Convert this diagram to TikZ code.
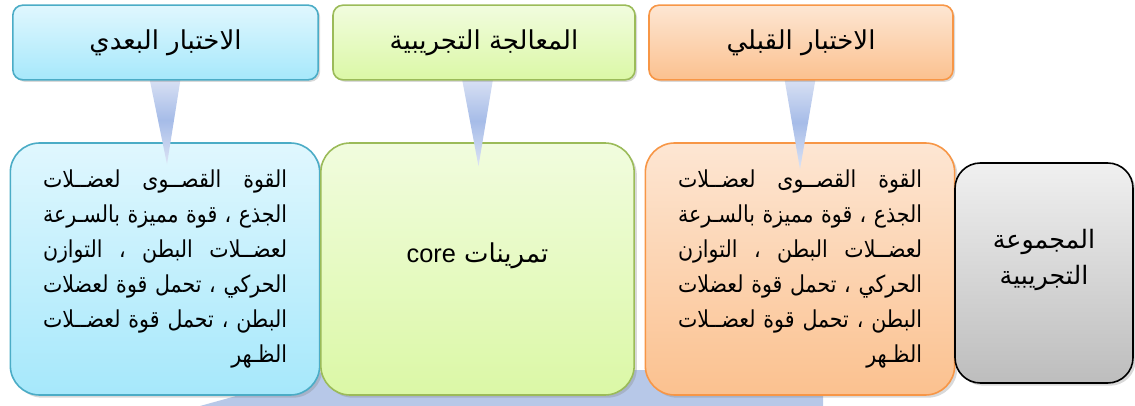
\documentclass[tikz,border=0pt]{standalone}
\usepackage{fontspec}
\setmainfont{Liberation Sans}
\newfontfamily\arabicfont[Script=Arabic]{DejaVu Sans}
\newfontfamily\arabicnarrow[Script=Arabic, FakeStretch=0.88]{DejaVu Sans}
\TeXXeTstate=1
\usetikzlibrary{calc}
\usetikzlibrary{shadows}

\definecolor{postTop}{HTML}{E0F7FE}
\definecolor{postBot}{HTML}{A6E8FB}
\definecolor{postLine}{HTML}{4BACC6}
\definecolor{treatTop}{HTML}{F1FCDE}
\definecolor{treatBot}{HTML}{DBF8A6}
\definecolor{treatLine}{HTML}{9BBB59}
\definecolor{preTop}{HTML}{FDE6D3}
\definecolor{preBot}{HTML}{FBC18F}
\definecolor{preLine}{HTML}{F79646}
\definecolor{grpTop}{HTML}{F0F0F0}
\definecolor{grpBot}{HTML}{BDBDBD}
\definecolor{wedgeLight}{HTML}{DCE3F4}
\definecolor{wedgeDark}{HTML}{A6BCE8}
\definecolor{flowBack}{HTML}{B7C8E8}

\newcommand\jline[1]{\hbox to 183pt{\beginR #1\endR}}
\newcommand\lastline[1]{\hbox to 183pt{\hfill\beginR #1\endR}}
\newcommand\measuretext{%
  \jline{القوة القصــوى لعضــلات}\\
  \jline{الجذع ، قوة مميزة بالسـرعة}\\
  \jline{لعضــلات البطن ، التوازن}\\
  \jline{الحركي ، تحمل قوة لعضلات}\\
  \jline{البطن ، تحمل قوة لعضــلات}\\
  \lastline{الظـهر}}

\tikzset{
  headbox/.style={rounded corners=7.5pt, line width=1.2pt, inner sep=0pt,
    minimum width=228pt, minimum height=56pt,
    font=\arabicfont\fontsize{19.5}{22}\selectfont,
    drop shadow={opacity=0.3, shadow xshift=1.5pt, shadow yshift=-1.5pt}},
  bodybox/.style={rounded corners=22pt, line width=1.2pt, inner sep=0pt,
    minimum width=232pt, minimum height=189pt, align=center,
    font=\arabicnarrow\fontsize{17.5}{26.2}\selectfont,
    drop shadow={opacity=0.3, shadow xshift=2pt, shadow yshift=-2pt}},
  wedge/.style={draw=none, top color=wedgeLight, bottom color=wedgeLight,
    middle color=wedgeDark},
}

\begin{document}
\begin{tikzpicture}[x=0.75pt, y=-0.75pt]
  \useasboundingbox (0,0) rectangle (1135,406);

  % background arrow
  \fill[flowBack] (823,370) -- (330,370) -- (200,406) -- (823,406) -- cycle;

  % lower boxes
  \node[bodybox, draw=postLine, top color=postTop, bottom color=postBot] (post2) at (165,269) {\measuretext};
  \node[bodybox, draw=treatLine, top color=treatTop, bottom color=treatBot, minimum width=235pt] (treat2) at (477.5,269) {};
  \node[font=\arabicfont\fontsize{19.5}{22}\selectfont] (treattext) at ($(treat2.center)+(0,-13)$)
    {\beginR تمرينات \beginL{\rmfamily\fontsize{19}{22}\selectfont core}\endL\endR};
  \node[bodybox, draw=preLine, top color=preTop, bottom color=preBot] (pre2) at (800,269) {\measuretext};
  \node[bodybox, draw=black, top color=grpTop, bottom color=grpBot, minimum width=133.5pt, minimum height=165pt,
    rounded corners=19pt] (group) at (1044,273) {};
  \node[align=center, font=\arabicfont\fontsize{19}{27.5}\selectfont] (grouptext) at ($(group.center)+(0,-13)$)
    {\beginR المجموعة\endR\\ \beginR التجريبية\endR};

  % wedges
  \path[wedge] ($(post2.north)+(-16,-66)$) -- ($(post2.north)+(16,-66)$) -- ($(post2.north)+(2,22)$) -- cycle;
  \path[wedge] ($(treat2.north)+(-16,-66)$) -- ($(treat2.north)+(16,-66)$) -- ($(treat2.north)+(1,24)$) -- cycle;
  \path[wedge] ($(pre2.north)+(-16,-66)$) -- ($(pre2.north)+(16,-66)$) -- ($(pre2.north)+(0,27)$) -- cycle;

  % upper boxes
  \node[headbox, draw=postLine, top color=postTop, bottom color=postBot, minimum width=229pt] (post1) at (165.5,42.5)
    {\beginR الاختبار البعدي\endR};
  \node[headbox, draw=treatLine, top color=treatTop, bottom color=treatBot, minimum width=226.5pt] (treat1) at (484,42.5)
    {\beginR المعالجة التجريبية\endR};
  \node[headbox, draw=preLine, top color=preTop, bottom color=preBot] (pre1) at (801,42.5)
    {\beginR الاختبار القبلي\endR};
\end{tikzpicture}
\end{document}
